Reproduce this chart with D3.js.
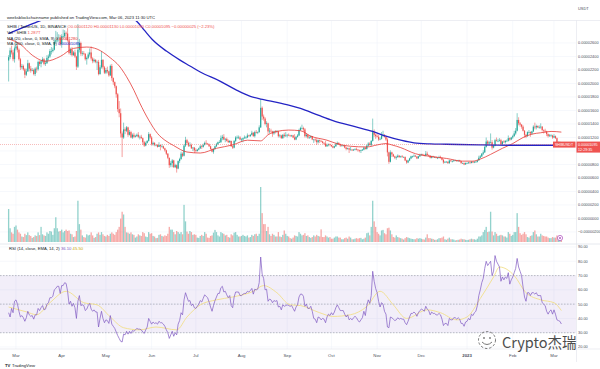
<!DOCTYPE html>
<html>
<head>
<meta charset="utf-8">
<script src="https://cdn.jsdelivr.net/npm/d3@7"></script>
<style>
  body { margin: 0; background: #fff; }
  svg { display: block; font-family: "Liberation Sans", Arial, sans-serif; }
</style>
</head>
<body>
<svg id="chart" width="600" height="369"></svg>
<script>
// SHIB/USDT daily, Feb 24 2022 -> Mar 6 2023. Prices are in units of 1e-6 USDT.
const firstDay = "2022-02-24";
const firstOpen = 23.4;

const closes = [
  23.9, 24.9, 24.6, 23.6, 25.2,
  25.5, 25.0, 23.6, 22.4, 22.6, 22.1, 21.3, 21.8, 23.0, 22.2, 21.9, 22.0, 21.4, 22.2, 22.1, 23.2, 22.9, 23.3, 23.6, 22.9, 23.0, 23.8, 24.0, 24.8, 24.8, 25.0, 26.2, 26.4, 26.8, 26.8, 25.8,
  27.0, 27.0, 27.5, 27.4, 26.4, 24.5, 25.0, 24.2, 24.6, 24.0, 22.5, 25.0, 26.0, 24.4, 24.5, 24.4, 23.6, 23.8, 24.3, 24.6, 23.7, 23.3, 23.5, 23.2, 23.2, 21.4, 22.4, 23.5, 22.4, 21.6,
  22.0, 21.8, 21.2, 22.6, 20.8, 20.2, 19.6, 18.4, 16.2, 15.6, 12.6, 12.0, 13.2, 13.0, 13.5, 12.4, 12.8, 12.0, 12.4, 12.1, 12.2, 12.4, 12.1, 12.1, 11.9, 11.3, 10.8, 11.2, 11.5, 12.5, 12.0,
  11.0, 11.2, 10.9, 10.9, 10.6, 10.9, 10.7, 10.7, 10.4, 10.1, 9.6, 9.0, 7.9, 8.2, 8.6, 7.6, 7.9, 7.4, 8.5, 8.8, 9.6, 9.3, 10.8, 11.6, 11.2, 10.8, 10.9, 10.4, 10.5, 10.1,
  10.0, 10.2, 10.4, 10.7, 10.6, 10.9, 11.2, 11.1, 11.0, 10.7, 10.3, 9.9, 10.3, 10.7, 11.0, 11.3, 11.3, 11.9, 12.1, 11.7, 11.8, 11.5, 11.3, 11.5, 10.7, 10.5, 11.5, 12.0, 12.0, 12.0, 11.7,
  11.7, 11.9, 12.0, 12.0, 12.3, 12.2, 12.4, 12.7, 12.2, 12.8, 12.7, 12.8, 13.5, 16.4, 15.1, 14.8, 14.0, 14.1, 12.9, 13.0, 12.9, 12.6, 12.9, 12.8, 12.9, 12.2, 12.3, 11.9, 12.4, 12.2, 12.3,
  12.4, 12.3, 12.2, 12.3, 12.0, 11.7, 12.1, 12.3, 13.1, 13.4, 13.4, 13.2, 12.2, 12.4, 12.0, 12.0, 12.2, 11.7, 11.7, 11.6, 11.3, 11.6, 11.5, 11.4, 11.2, 11.1, 10.7, 10.9, 11.0, 10.9,
  10.7, 10.5, 10.7, 11.0, 11.2, 11.0, 10.8, 10.8, 10.8, 10.5, 10.3, 10.4, 10.2, 10.2, 10.1, 10.2, 10.3, 10.2, 10.1, 10.0, 10.1, 10.2, 10.5, 10.3, 10.8, 11.1, 10.9, 11.5, 12.8, 12.4, 12.2,
  12.1, 11.7, 11.8, 12.3, 12.4, 12.1, 11.7, 9.8, 8.4, 9.8, 9.5, 9.2, 9.0, 9.1, 9.3, 9.1, 9.2, 9.1, 9.1, 8.6, 8.3, 8.6, 8.9, 9.2, 9.2, 9.3, 9.2, 8.9, 9.2, 9.4,
  9.5, 9.4, 9.3, 9.6, 9.4, 9.3, 9.0, 9.2, 9.1, 9.1, 9.0, 9.0, 9.1, 9.0, 8.7, 8.3, 8.4, 8.4, 8.2, 8.6, 8.5, 8.5, 8.6, 8.6, 8.5, 8.6, 8.5, 8.2, 8.2, 8.0, 8.2,
  8.2, 8.3, 8.2, 8.4, 8.3, 8.4, 8.4, 8.6, 9.0, 9.2, 9.6, 9.8, 10.6, 11.4, 11.1, 11.3, 11.3, 10.5, 10.8, 11.6, 11.5, 11.5, 11.6, 11.0, 11.4, 11.3, 11.5, 11.5, 11.9, 11.7, 12.0,
  12.2, 12.6, 13.0, 14.6, 14.1, 13.9, 13.6, 13.0, 12.4, 12.2, 12.8, 12.8, 12.6, 12.9, 13.6, 13.5, 13.7, 13.5, 13.5, 13.6, 13.1, 13.0, 12.9, 12.5, 12.2, 12.3, 12.3, 12.0,
  12.2, 11.9, 11.2, 11.2, 11.2, 10.95
];

const highs = [
  24.2, 25.3, 25.6, 25.0, 25.5,
  26.3, 26.0, 25.2, 23.8, 22.9, 22.8, 22.3, 22.2, 23.5, 23.1, 22.6, 22.3, 22.2, 22.4, 22.5, 23.4, 23.4, 23.5, 23.9, 23.8, 23.4, 24.2, 24.3, 25.1, 25.4, 25.3, 26.5, 27.8, 27.6, 27.3, 27.2,
  27.3, 28.0, 27.9, 27.7, 28.2, 26.5, 25.3, 25.4, 24.8, 25.0, 24.1, 28.8, 26.6, 26.2, 24.8, 24.8, 24.5, 24.0, 24.6, 25.2, 25.5, 23.9, 23.7, 23.6, 23.4, 23.5, 22.7, 24.8, 23.6, 22.6,
  22.3, 22.5, 21.9, 22.8, 22.9, 20.9, 20.3, 19.7, 18.6, 17.4, 16.3, 12.9, 14.2, 13.5, 13.7, 13.6, 13.1, 13.0, 12.6, 12.7, 12.4, 12.6, 12.8, 12.3, 12.4, 12.0, 11.5, 11.4, 11.6, 12.8, 12.6,
  12.2, 11.4, 11.3, 11.0, 11.0, 11.3, 10.9, 11.0, 10.8, 10.5, 10.2, 9.7, 9.0, 8.5, 8.8, 8.7, 8.1, 8.0, 8.6, 9.0, 9.9, 9.8, 11.0, 12.1, 11.8, 11.4, 11.3, 11.1, 10.6, 10.6,
  10.4, 10.3, 10.5, 10.9, 10.9, 11.1, 11.4, 11.6, 11.2, 11.1, 10.8, 10.4, 10.4, 10.8, 11.2, 11.4, 11.6, 12.3, 12.4, 12.5, 11.9, 12.0, 11.7, 11.6, 11.5, 10.8, 11.6, 12.2, 12.3, 12.3, 12.2,
  11.9, 12.0, 12.3, 12.2, 12.6, 12.4, 12.5, 13.0, 12.8, 13.0, 13.1, 12.9, 13.8, 17.7, 16.6, 15.4, 15.0, 14.4, 14.2, 13.4, 13.3, 13.0, 13.0, 13.1, 13.1, 13.0, 12.5, 12.4, 12.5, 12.7, 12.8,
  12.5, 12.6, 12.4, 12.4, 12.4, 12.5, 12.2, 12.5, 13.3, 13.6, 13.9, 13.6, 13.4, 12.6, 12.5, 12.2, 12.3, 12.2, 11.8, 11.9, 11.9, 11.7, 11.7, 11.6, 11.5, 11.3, 11.5, 11.1, 11.1, 11.1,
  10.9, 10.8, 10.8, 11.2, 11.4, 11.3, 11.1, 10.9, 10.9, 10.9, 10.6, 10.5, 10.5, 10.6, 10.3, 10.3, 10.4, 10.5, 10.3, 10.2, 10.2, 10.3, 10.6, 10.6, 10.9, 11.3, 11.3, 11.6, 14.8, 13.2, 12.6,
  12.6, 12.4, 12.0, 12.8, 13.0, 12.5, 12.2, 11.9, 9.9, 10.1, 9.9, 9.6, 9.3, 9.3, 9.5, 9.4, 9.3, 9.4, 9.2, 9.2, 8.7, 8.7, 9.0, 9.3, 9.3, 9.5, 9.4, 9.2, 9.3, 9.6,
  9.6, 9.6, 9.5, 10.0, 9.9, 9.5, 9.4, 9.3, 9.3, 9.2, 9.2, 9.1, 9.3, 9.3, 9.0, 8.8, 8.5, 8.5, 8.5, 8.7, 8.7, 8.6, 8.7, 8.7, 8.6, 8.7, 8.7, 8.5, 8.3, 8.3, 8.3,
  8.3, 8.4, 8.4, 8.5, 8.5, 8.5, 8.5, 8.7, 9.3, 9.4, 9.7, 10.1, 10.8, 12.0, 11.6, 11.5, 12.6, 11.6, 10.9, 11.8, 12.0, 11.8, 11.9, 11.8, 11.5, 11.6, 11.6, 11.7, 12.3, 12.0, 12.1,
  12.4, 13.0, 13.4, 15.6, 15.0, 14.3, 14.0, 13.8, 13.1, 12.5, 12.9, 13.1, 12.9, 13.0, 13.8, 14.2, 13.9, 13.8, 13.8, 14.1, 13.7, 13.2, 13.3, 13.0, 12.6, 12.5, 12.5, 12.4,
  12.5, 12.3, 12.0, 11.4, 11.4, 11.3
];

const lows = [
  20.3, 23.6, 24.3, 23.3, 23.1,
  24.9, 24.6, 23.4, 22.0, 22.1, 21.9, 20.8, 21.1, 21.7, 21.8, 21.6, 21.8, 21.2, 21.1, 21.6, 21.9, 22.6, 22.4, 23.1, 22.7, 22.6, 22.9, 23.4, 23.8, 24.3, 24.6, 24.9, 25.9, 26.1, 26.2, 25.6,
  25.3, 26.7, 26.8, 26.4, 26.2, 24.3, 24.2, 24.0, 24.1, 23.8, 22.0, 22.3, 24.6, 24.1, 24.1, 24.2, 23.4, 22.8, 23.6, 24.0, 23.4, 23.0, 23.1, 23.0, 22.0, 21.2, 21.3, 22.2, 22.1, 21.4,
  21.4, 21.5, 21.0, 21.1, 20.4, 19.8, 19.3, 17.9, 15.8, 15.0, 12.0, 9.1, 11.8, 12.5, 12.8, 12.1, 12.3, 11.9, 11.8, 11.9, 12.0, 12.1, 11.9, 11.7, 11.8, 10.9, 10.6, 10.7, 11.1, 11.4, 11.8,
  10.8, 10.8, 10.7, 10.7, 10.5, 10.6, 10.1, 10.5, 10.3, 9.9, 9.4, 8.8, 7.5, 7.6, 7.6, 7.5, 7.5, 6.8, 7.3, 8.2, 8.7, 9.1, 9.2, 10.6, 10.9, 10.6, 10.6, 10.3, 10.0, 9.7,
  9.8, 9.9, 10.1, 10.3, 10.3, 10.5, 10.8, 11.0, 10.9, 10.6, 10.2, 9.8, 9.6, 10.2, 10.6, 10.9, 11.2, 11.2, 11.6, 11.6, 11.3, 11.4, 11.2, 11.2, 10.6, 10.3, 10.4, 11.3, 11.8, 11.8, 11.6,
  11.4, 11.3, 11.8, 11.8, 11.9, 12.1, 12.1, 12.3, 12.1, 12.0, 12.6, 12.5, 12.7, 13.4, 14.6, 14.5, 13.8, 13.5, 12.5, 12.6, 12.7, 12.1, 12.4, 12.6, 12.7, 12.0, 12.0, 11.8, 11.8, 12.0, 12.1,
  12.0, 12.2, 12.1, 12.1, 11.9, 11.6, 11.6, 12.0, 12.2, 13.0, 13.2, 12.9, 12.0, 12.0, 11.8, 11.8, 11.9, 11.6, 11.2, 11.4, 10.9, 11.1, 11.2, 11.3, 11.1, 10.9, 10.6, 10.6, 10.7, 10.7,
  10.6, 10.4, 10.4, 10.6, 10.9, 10.9, 10.6, 10.7, 10.7, 10.4, 10.1, 10.2, 9.7, 10.1, 10.0, 10.0, 10.1, 10.1, 9.9, 9.8, 9.7, 10.0, 10.1, 10.2, 10.2, 10.7, 10.8, 10.7, 11.4, 12.1, 11.8,
  12.0, 11.5, 11.6, 11.7, 12.1, 12.0, 11.5, 9.2, 8.1, 8.3, 9.1, 9.1, 8.8, 8.7, 9.0, 9.0, 9.0, 9.0, 9.0, 8.5, 8.1, 8.2, 8.5, 8.8, 9.0, 9.1, 9.1, 8.8, 8.9, 9.1,
  9.3, 9.3, 9.2, 9.2, 9.3, 9.2, 8.9, 8.9, 9.0, 9.0, 8.9, 8.8, 8.9, 8.9, 8.6, 8.1, 8.2, 8.3, 8.1, 8.1, 8.4, 8.3, 8.4, 8.5, 8.4, 8.4, 8.4, 8.1, 8.1, 7.9, 8.0,
  8.1, 8.1, 8.1, 8.2, 8.2, 8.2, 8.3, 8.3, 8.6, 8.9, 9.1, 9.4, 9.7, 10.5, 10.8, 10.8, 11.1, 10.2, 10.4, 10.7, 11.4, 11.3, 11.4, 10.9, 10.8, 11.2, 11.1, 11.4, 11.4, 11.5, 11.6,
  11.8, 12.1, 12.4, 12.9, 13.8, 13.6, 13.3, 12.9, 12.0, 11.9, 12.1, 12.6, 12.1, 12.4, 12.8, 13.2, 13.2, 13.4, 13.3, 13.3, 12.9, 12.6, 12.7, 12.2, 12.0, 12.1, 12.1, 11.8,
  11.9, 11.8, 10.9, 11.0, 11.1, 10.9
];

// volume, trillions of SHIB
const volumes = [
  12, 5, 3.5, 3, 5.5,
  6, 4.5, 3.5, 3, 2, 1.8, 3, 2.5, 3.5, 2.5, 2.2, 1.5, 1.8, 2.4, 2.2, 3.5, 2.5, 5.5, 2.8, 2.4, 2.2, 3.5, 3, 4, 3.8, 2.6, 5, 9, 5, 3.8, 4,
  4.5, 3.5, 4, 4.5, 4, 4.2, 3, 2.8, 1.8, 2, 4, 15, 6.5, 4.5, 2.4, 1.8, 1.6, 2.8, 2.4, 2.6, 3.5, 2.4, 1.5, 1.8, 3, 3.5, 2.6, 3.6, 2.8, 2.2,
  2, 2.6, 2.2, 3, 3.5, 3, 2.6, 3.6, 4.5, 5.5, 8.5, 11, 10, 5.5, 3.5, 3.4, 3, 3.5, 2.8, 2.6, 1.6, 2, 2.8, 2.4, 2.2, 3.6, 3.2, 2, 1.8, 3.6, 3,
  3.2, 2.2, 2, 1.4, 1.5, 2.6, 2.8, 2.2, 2, 2.4, 2.2, 3, 5.5, 4.5, 4.5, 3.6, 2.8, 4, 3.6, 3, 3.6, 2.8, 13.5, 7.5, 3.8, 3, 4, 3.6, 2.6, 2.8,
  2.6, 1.6, 1.5, 2.2, 2.6, 2.2, 3.6, 3, 1.6, 1.5, 2.2, 2.4, 3.4, 4.4, 3.6, 2.4, 2, 3.6, 3.2, 3, 2.4, 2.6, 1.8, 1.6, 2.8, 2.4, 3.4, 3.6, 2.6, 2, 2,
  2.2, 2.6, 2.2, 2, 2.4, 1.6, 1.8, 2.6, 2.2, 2.8, 3, 2.2, 3, 20, 10.5, 6.5, 6.5, 4, 5.5, 2.8, 2.2, 3, 2.6, 2, 2, 3.6, 2, 1.8, 2.6, 4.2, 3,
  2.2, 2, 1.4, 1.2, 1.6, 2.4, 2.2, 2, 3.6, 3, 2.4, 2.6, 3.2, 2.2, 2.4, 1.8, 1.5, 1.8, 2.4, 2, 2.6, 2.2, 2, 4.6, 1.8, 1.8, 2.4, 2, 1.6, 1.8,
  1.2, 1.2, 1.6, 2, 2, 1.6, 1.6, 1, 1, 1.4, 1.6, 1.2, 2, 1.6, 1, 1, 1.2, 1.4, 1.2, 1.4, 1.5, 1, 1.2, 1.6, 3.2, 3.4, 2.4, 5.5, 15, 7.5, 5.5,
  3.6, 3, 2.4, 4.2, 4.4, 3.2, 2.8, 5, 5.2, 4.2, 2.8, 1.8, 1.6, 2.4, 1.8, 1.6, 1.4, 1.2, 0.9, 1.4, 1.8, 1.6, 1.4, 1.2, 1.1, 1, 1, 1.4, 1.2, 1.4,
  1.2, 1, 0.9, 1.6, 2.8, 1.4, 1.4, 1.2, 1.1, 0.8, 0.8, 1, 1.4, 1.4, 1.6, 2, 1, 0.8, 1.2, 1.6, 1, 1, 0.9, 0.6, 0.7, 0.8, 0.9, 1.2, 1, 1, 0.8,
  0.7, 0.8, 1, 1.2, 1, 1, 0.8, 1.2, 2, 2, 2.4, 3.6, 4.4, 5.5, 3.6, 3.8, 11, 3.8, 2.4, 3.6, 3, 2.2, 2.4, 2.6, 2.4, 2, 2, 1.6, 3.6, 3, 2.2,
  2.6, 3.6, 3.6, 10.5, 5.5, 3.2, 2.6, 3, 3.6, 2.8, 1.8, 1.6, 2.2, 2.4, 3.6, 4.2, 2.8, 2, 2, 3, 2.4, 2.2, 2, 2, 1.6, 1.4, 1.4, 1.8,
  1.6, 1.6, 2.4, 1.4, 1, 1.2
];

const rsiValues = [
  44, 41, 47, 44, 52,
  53, 50, 45, 41, 42, 40.5, 38, 40.5, 45, 42.5, 41.5, 42, 39.5, 42.5, 42.5, 47, 45.5, 47.5, 49, 46, 46.5, 50, 51, 54.5, 54.5, 55.5, 60, 61, 62.5, 62.5, 57.5,
  63, 63, 65, 64.5, 59, 50, 52, 48.5, 50.5, 47.5, 40, 52, 56, 49, 49.5, 49, 45.5, 46.5, 49, 50.5, 46.5, 45, 46, 44.5, 44.5, 34, 40, 45, 40, 37,
  39, 38.5, 36.5, 42, 36, 34.5, 33, 30.5, 28, 26, 24, 23.5, 29, 28.5, 31, 29, 31, 29.5, 31.5, 31, 32, 33, 32.5, 32.5, 32, 30.5, 29.5, 32, 34, 40, 38,
  36, 37.5, 36.5, 37, 36, 38, 37, 37, 36, 34.5, 32, 30, 26, 28.5, 31, 27.5, 30, 28.5, 36, 38.5, 44, 42.5, 53, 58, 55, 52, 52.5, 49, 50, 47.5,
  47, 48.5, 50, 52.5, 51.5, 54, 56.5, 55.5, 54.5, 51.5, 48, 45, 49, 52.5, 55, 57.5, 57.5, 61.5, 62.5, 58.5, 59, 56.5, 54.5, 56, 49, 47.5, 55, 58.5, 58.5, 58.5, 56,
  56, 57, 57.5, 57.5, 59, 58.5, 59.5, 61, 57, 60.5, 60, 60.5, 65, 83, 71, 68, 60, 60.5, 52, 53.5, 53, 51, 52.5, 52, 52.5, 48, 48.5, 46, 49.5, 48.5, 49,
  49.5, 49, 48.5, 49, 47, 45, 48, 49.5, 55, 57, 57, 55.5, 48.5, 50, 47, 47, 48.5, 45, 40, 39.5, 37, 41, 40.5, 39, 40, 39.5, 37, 41, 43, 42,
  44, 42.5, 44.5, 47.5, 49.5, 47.5, 45.5, 45.5, 45.5, 43, 41, 42.5, 39, 40, 39, 40.5, 41.5, 40.5, 38.5, 37.5, 39, 40.5, 45, 42, 49, 53, 50.5, 56, 73, 66, 61,
  58, 52, 48, 51, 50, 45, 43, 34, 33.5, 41, 40.5, 39.5, 38.5, 39, 40.5, 39.5, 40, 39.5, 39.5, 37, 35.6, 38, 41, 43.5, 43.5, 44.5, 43.5, 41.5, 44, 45.5,
  46.5, 46, 45, 48.5, 46.5, 45.5, 42.5, 44.5, 43.5, 43.5, 42.5, 42.5, 43.5, 42.5, 39.5, 35, 36.5, 36.5, 35, 40, 39, 39, 40.5, 40.5, 39.5, 40.5, 39.5, 36.5, 36.5, 34.5, 37.5,
  38, 40, 39, 43, 42, 44, 45, 49, 56, 60, 65, 68, 75, 80, 77, 78.5, 80, 70, 73, 84, 80, 78, 76, 66, 69, 67, 69, 68, 72, 64, 67,
  69, 72, 75, 82, 76, 73, 70, 62, 55, 52, 58, 58, 56, 58, 58, 57, 58, 56, 56, 56, 51, 50, 49, 45, 43, 45, 46, 43,
  46, 43, 39, 38.5, 38, 36.1
];

// moving averages: [day index, value]
const ma20Points = [
  [0, 26.6], [8, 25.8], [16, 24.2], [25, 23.3], [35, 24.0], [44, 25.2], [53, 25.4], [60, 25.1], [69, 23.8],
  [75, 22.6], [80, 21.0], [85, 19.0], [89, 17.1], [95, 14.6], [101, 12.6], [106, 11.6], [112, 10.8], [121, 9.85],
  [130, 9.7], [141, 10.4], [152, 10.9], [162, 11.6], [171, 11.5], [176, 12.4], [182, 12.9], [190, 13.1], [198, 13.0],
  [205, 12.2], [216, 11.6], [224, 11.0], [232, 10.7], [243, 10.6], [250, 10.9], [256, 11.1], [260, 10.9], [266, 10.5],
  [276, 9.6], [286, 9.2], [297, 8.9], [308, 8.5], [315, 8.5], [320, 8.8], [327, 9.5], [335, 10.4], [342, 11.1],
  [349, 12.0], [355, 12.5], [361, 12.7], [368, 12.9], [375, 12.8]
];
const ma200Points = [
  [0, 27.4], [10, 28.3], [19, 29.1], [28, 29.8], [40, 30.4], [55, 30.7], [70, 30.5], [80, 30.0], [87, 29.2],
  [92, 27.9], [98, 26.4], [107, 24.8], [116, 23.5], [123, 22.6], [130, 21.7], [143, 20.4], [154, 19.1], [164, 18.1],
  [173, 17.6], [182, 17.2], [190, 16.8], [198, 16.3], [210, 15.3], [220, 14.5], [235, 13.6], [247, 12.9], [256, 12.2],
  [266, 11.6], [275, 11.2], [286, 11.05], [297, 11.0], [320, 10.9], [342, 10.85], [360, 10.85], [375, 10.85]
];
const rsiMaPoints = [
  [0, 48], [12, 44.6], [19, 42.6], [28, 51], [39, 59], [51, 51], [60, 49.5], [69, 41], [78, 33.5], [89, 32],
  [100, 34], [114, 32], [121, 41], [130, 49.5], [141, 53], [152, 55], [166, 59], [173, 63], [182, 58], [191, 49.5],
  [198, 49], [211, 44], [220, 41.4], [232, 42.6], [243, 48.4], [252, 59], [261, 49.5], [270, 40], [284, 46],
  [293, 44], [304, 39], [311, 41], [320, 54], [329, 69], [333, 76], [343, 70], [351, 58], [361, 53], [370, 51], [375, 45.5]
];

const priceTicks = d3.range(-2, 27, 2);
const rsiTicks = [90, 80, 70, 60, 50, 40, 30, 20];
const monthNames = ["Jan", "Feb", "Mar", "Apr", "May", "Jun", "Jul", "Aug", "Sep", "Oct", "Nov", "Dec"];

// ---- layout ----
const svg = d3.select("#chart");
const plotR = 576;
const mainTop = 21, mainBot = 243.5;
const rsiTop = 244.5, rsiBot = 349;
const upCol = "#26a69a", downCol = "#ef5350";
const fmt = v => d3.format(".8f")(v / 1e6);

const day0 = d3.utcParse("%Y-%m-%d")(firstDay);

const x = d3.scaleUtc()
  .domain([new Date(Date.UTC(2022, 2, 1)), new Date(Date.UTC(2023, 2, 1))])
  .range([16, 554]);
const y = d3.scaleLinear().domain([-2, 26]).range([232, 43]);
const yVol = d3.scaleLinear().domain([0, 20]).range([242, 187]);
const yRsi = d3.scaleLinear().domain([20, 90]).range([347, 247]);
const xi = i => x(d3.utcDay.offset(day0, i));

svg.append("rect").attr("width", 600).attr("height", 369).attr("fill", "#fff");

const defs = svg.append("defs");
defs.append("clipPath").attr("id", "mainClip")
  .append("rect").attr("x", 0).attr("y", mainTop).attr("width", plotR).attr("height", mainBot - mainTop);
defs.append("clipPath").attr("id", "rsiClip")
  .append("rect").attr("x", 0).attr("y", rsiTop).attr("width", plotR).attr("height", rsiBot - rsiTop);

// grid
const grid = svg.append("g").attr("stroke", "#f0f3fa").attr("stroke-width", 0.6);
const months = d3.utcMonth.range(new Date(Date.UTC(2022, 2, 1)), new Date(Date.UTC(2023, 2, 2)));
grid.selectAll("line.v").data(months).join("line")
  .attr("x1", d => x(d)).attr("x2", d => x(d))
  .attr("y1", mainTop).attr("y2", rsiBot);
grid.selectAll("line.h").data(priceTicks).join("line")
  .attr("x1", 0).attr("x2", plotR).attr("y1", d => y(d)).attr("y2", d => y(d));
grid.selectAll("line.r").data(rsiTicks).join("line")
  .attr("x1", 0).attr("x2", plotR).attr("y1", d => yRsi(d)).attr("y2", d => yRsi(d));

// pane borders
svg.append("line").attr("x1", 0).attr("x2", 600).attr("y1", mainTop - 0.5).attr("y2", mainTop - 0.5)
  .attr("stroke", "#e0e3eb").attr("stroke-width", 0.6);
svg.append("line").attr("x1", 0).attr("x2", 600).attr("y1", 244).attr("y2", 244)
  .attr("stroke", "#e0e3eb").attr("stroke-width", 0.8);
svg.append("line").attr("x1", 0).attr("x2", 600).attr("y1", rsiBot).attr("y2", rsiBot)
  .attr("stroke", "#e0e3eb").attr("stroke-width", 0.6);
svg.append("line").attr("x1", plotR + 0.5).attr("x2", plotR + 0.5).attr("y1", mainTop - 0.5).attr("y2", 362)
  .attr("stroke", "#e0e3eb").attr("stroke-width", 0.6);

// ---- main pane ----
const main = svg.append("g").attr("clip-path", "url(#mainClip)");

const candles = closes.map((c, i) => {
  const o = i === 0 ? firstOpen : closes[i - 1];
  return { i, o, c, h: Math.max(highs[i], o, c), l: Math.min(lows[i], o, c), v: volumes[i] };
});

main.append("g").selectAll("rect").data(candles).join("rect")
  .attr("x", d => xi(d.i) - 0.65).attr("width", 1.3)
  .attr("y", d => yVol(d.v)).attr("height", d => yVol(0) - yVol(d.v))
  .attr("fill", d => d.c >= d.o ? upCol : downCol).attr("fill-opacity", 0.5);

main.append("g").selectAll("line").data(candles).join("line")
  .attr("x1", d => xi(d.i)).attr("x2", d => xi(d.i))
  .attr("y1", d => y(d.h)).attr("y2", d => y(d.l))
  .attr("stroke", d => d.c >= d.o ? upCol : downCol).attr("stroke-width", 0.55);

main.append("g").selectAll("rect").data(candles).join("rect")
  .attr("x", d => xi(d.i) - 0.6).attr("width", 1.2)
  .attr("y", d => y(Math.max(d.o, d.c)))
  .attr("height", d => Math.max(0.6, Math.abs(y(d.o) - y(d.c))))
  .attr("fill", d => d.c >= d.o ? upCol : downCol);

const maLine = d3.line().x(d => xi(d[0])).y(d => y(d[1])).curve(d3.curveMonotoneX);
main.append("path").attr("d", maLine(ma20Points))
  .attr("fill", "none").attr("stroke", "#e53935").attr("stroke-width", 0.8);
main.append("path").attr("d", maLine(ma200Points))
  .attr("fill", "none").attr("stroke", "#2424c4").attr("stroke-width", 1.3);

// last price line
const last = candles[candles.length - 1];
main.append("line").attr("x1", 0).attr("x2", plotR)
  .attr("y1", y(last.c)).attr("y2", y(last.c))
  .attr("stroke", downCol).attr("stroke-width", 0.6).attr("stroke-dasharray", "1,1").attr("opacity", 0.7);

// ---- RSI pane ----
const rsiG = svg.append("g").attr("clip-path", "url(#rsiClip)");
rsiG.append("rect").attr("x", 0).attr("width", plotR)
  .attr("y", yRsi(70)).attr("height", yRsi(30) - yRsi(70))
  .attr("fill", "#7e57c2").attr("fill-opacity", 0.1);
rsiG.selectAll("line.band").data([70, 50, 30]).join("line")
  .attr("x1", 0).attr("x2", plotR).attr("y1", d => yRsi(d)).attr("y2", d => yRsi(d))
  .attr("stroke", "#9598a1").attr("stroke-width", 0.6).attr("stroke-dasharray", "1.5,1.5");
rsiG.append("path").attr("d", d3.line().x(d => xi(d[0])).y(d => yRsi(d[1])).curve(d3.curveMonotoneX)(rsiMaPoints))
  .attr("fill", "none").attr("stroke", "#f2df8a").attr("stroke-width", 0.9);
rsiG.append("path").attr("d", d3.line().x((d, i) => xi(i)).y(d => yRsi(d))(rsiValues))
  .attr("fill", "none").attr("stroke", "#7e57c2").attr("stroke-width", 0.7);

// ---- right axis ----
// tick labels hidden under the last-price label, as TradingView does
const visiblePriceTicks = priceTicks.filter(d => Math.abs(y(d) - y(last.c)) > 7);
const axisG = svg.append("g").attr("font-size", 3.9).attr("fill", "#4a4e59");
axisG.selectAll("text.p").data(visiblePriceTicks).join("text")
  .attr("x", 578).attr("y", d => y(d) + 1.4).text(d => fmt(d));
axisG.selectAll("text.r").data(rsiTicks).join("text")
  .attr("x", 578).attr("y", d => yRsi(d) + 1.4).text(d => d3.format(".2f")(d));
axisG.append("text").attr("x", 578).attr("y", 9.5).text("USDT");

// last price labels
svg.append("rect").attr("x", plotR + 0.5).attr("y", y(last.c) - 3).attr("width", 23.5).attr("height", 11)
  .attr("fill", downCol);
svg.append("text").attr("x", 578).attr("y", y(last.c) + 1.3).attr("font-size", 3.7).attr("fill", "#fff")
  .text(fmt(last.c));
svg.append("text").attr("x", 578).attr("y", y(last.c) + 6.6).attr("font-size", 3.7).attr("fill", "#fff")
  .text("12:29:35");
svg.append("rect").attr("x", 553).attr("y", y(last.c) - 3).attr("width", 22.5).attr("height", 6)
  .attr("fill", downCol);
svg.append("text").attr("x", 564).attr("y", y(last.c) + 1.4).attr("font-size", 3.6).attr("fill", "#fff")
  .attr("text-anchor", "middle").text("SHIBUSDT");

// marker on volume
svg.append("circle").attr("cx", 560).attr("cy", 238).attr("r", 2.6)
  .attr("fill", "#fff").attr("stroke", "#ab47bc").attr("stroke-width", 0.7);
svg.append("circle").attr("cx", 560).attr("cy", 238).attr("r", 0.9).attr("fill", "#ab47bc");

// ---- time axis ----
const timeG = svg.append("g").attr("font-size", 4.3).attr("fill", "#4a4e59").attr("text-anchor", "middle");
timeG.selectAll("text").data(months).join("text")
  .attr("x", d => x(d)).attr("y", 357)
  .attr("font-weight", d => d.getUTCMonth() === 0 ? "bold" : null)
  .text(d => d.getUTCMonth() === 0 ? String(d.getUTCFullYear()) : monthNames[d.getUTCMonth()]);

// ---- legends ----
const leg = svg.append("g").attr("font-size", 4.2).attr("fill", "#131722");
leg.append("text").attr("x", 7).attr("y", 18.5)
  .text("weeksblockchainname published on TradingView.com, Mar 06, 2023 11:30 UTC");
const chg = last.c - last.o;
const l1 = leg.append("text").attr("x", 7).attr("y", 28.3);
l1.append("tspan").text("SHIB / TetherUS, 1D, BINANCE  ");
l1.append("tspan").attr("fill", downCol)
  .text(`O${fmt(last.o)}  H${fmt(last.h)}  L${fmt(last.l)}  C${fmt(last.c)}  ${fmt(chg).replace("-", "−")} (${d3.format(".2f")(chg / last.o * 100).replace("-", "−")}%)`);
const l2 = leg.append("text").attr("x", 7).attr("y", 34);
l2.append("tspan").text("Vol · SHIB  ");
l2.append("tspan").attr("fill", downCol).text("1.287T");
const l3 = leg.append("text").attr("x", 7).attr("y", 39.5);
l3.append("tspan").text("MA (20, close, 0, SMA, 9)  ");
l3.append("tspan").attr("fill", "#e53935").text(fmt(ma20Points[ma20Points.length - 1][1]));
const l4 = leg.append("text").attr("x", 7).attr("y", 45);
l4.append("tspan").text("MA (200, close, 0, SMA, 9)  ");
l4.append("tspan").attr("fill", "#2424c4").text(fmt(ma200Points[ma200Points.length - 1][1]));

const l5 = leg.append("text").attr("x", 9).attr("y", 250);
l5.append("tspan").text("RSI (14, close, EMA, 14, 2)  ");
l5.append("tspan").attr("fill", "#7e57c2").text(d3.format(".2f")(rsiValues[rsiValues.length - 1]) + "  ");
l5.append("tspan").attr("fill", "#c9a800").text(d3.format(".2f")(rsiMaPoints[rsiMaPoints.length - 1][1]));

// ---- footer ----
svg.append("text").attr("x", 5).attr("y", 367).attr("font-size", 4.2).attr("font-weight", "bold")
  .attr("fill", "#131722").text("TV");
svg.append("text").attr("x", 12).attr("y", 367).attr("font-size", 4.2).attr("fill", "#131722").text("TradingView");

// watermark
const wm = svg.append("g");
wm.append("circle").attr("cx", 487).attr("cy", 340).attr("r", 8.5)
  .attr("fill", "none").attr("stroke", "#777").attr("stroke-width", 1).attr("stroke-dasharray", "2.5,1.8");
wm.append("path").attr("d", "M482,342 Q487,347 492,342").attr("fill", "none").attr("stroke", "#777").attr("stroke-width", 1);
wm.append("circle").attr("cx", 484).attr("cy", 338).attr("r", 0.9).attr("fill", "#777");
wm.append("circle").attr("cx", 490).attr("cy", 338).attr("r", 0.9).attr("fill", "#777");
wm.append("text").attr("x", 502).attr("y", 347.5).attr("font-size", 14.5)
  .attr("font-family", "'Noto Sans CJK SC', 'Noto Sans', sans-serif")
  .attr("fill", "#4d4d4d").attr("stroke", "#fff").attr("stroke-width", 0.6).attr("paint-order", "stroke")
  .text("Crypto杰瑞");
</script>
</body>
</html>
